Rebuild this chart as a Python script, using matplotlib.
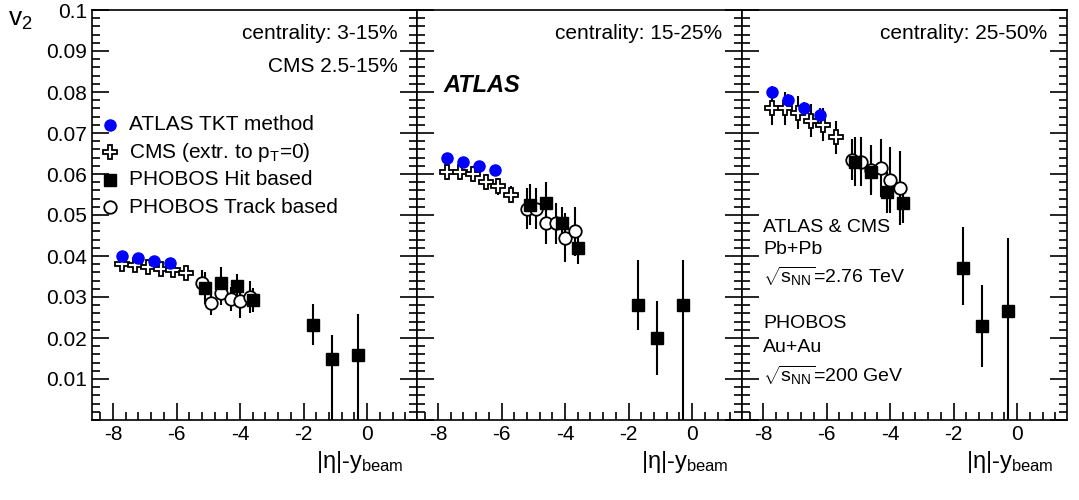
import numpy as np
import matplotlib
matplotlib.use("Agg")
import matplotlib.pyplot as plt
from matplotlib.ticker import MultipleLocator

plt.rcParams['font.family'] = ['Liberation Sans', 'DejaVu Sans']
plt.rcParams['mathtext.fontset'] = 'custom'
plt.rcParams['mathtext.rm'] = 'Liberation Sans'
plt.rcParams['mathtext.it'] = 'Liberation Sans'

x_atlas = [-7.7, -7.2, -6.7, -6.2]
x_cms = [-7.7, -7.3, -6.9, -6.5, -6.1, -5.7]
x_hit = [-5.1, -4.6, -4.1, -3.6, -1.7, -1.1, -0.3]
x_trk = [-5.2, -4.9, -4.6, -4.3, -4.0, -3.7]

atlas = [[0.040, 0.0395, 0.0388, 0.0383], [0.064, 0.063, 0.062, 0.061], [0.080, 0.078, 0.076, 0.0745]]
atlas_err = [[0.0006] * 4, [0.0008] * 4, [0.0015] * 4]
cms = [[0.038, 0.0378, 0.0372, 0.0368, 0.0365, 0.0358],
       [0.0605, 0.0605, 0.060, 0.058, 0.057, 0.055],
       [0.076, 0.076, 0.075, 0.073, 0.072, 0.069]]
cms_err = [[0.0012] * 6, [0.002] * 6, [0.004] * 6]
hit = [[0.0322, 0.0333, 0.0327, 0.0293, 0.0232, 0.0148, 0.0158],
       [0.0525, 0.053, 0.048, 0.042, 0.028, 0.020, 0.028],
       [0.063, 0.0605, 0.0555, 0.053, 0.037, 0.023, 0.0265]]
hit_lo = [[0.004, 0.004, 0.003, 0.003, 0.005, 0.0148, 0.0158],
          [0.005, 0.005, 0.004, 0.004, 0.006, 0.009, 0.028],
          [0.006, 0.005, 0.005, 0.005, 0.009, 0.010, 0.0265]]
hit_hi = [[0.004, 0.004, 0.003, 0.003, 0.005, 0.006, 0.010],
          [0.005, 0.005, 0.004, 0.004, 0.011, 0.009, 0.011],
          [0.006, 0.005, 0.005, 0.005, 0.010, 0.010, 0.018]]
trk = [[0.0335, 0.0285, 0.031, 0.0295, 0.029, 0.030],
       [0.0515, 0.0515, 0.048, 0.048, 0.0445, 0.046],
       [0.0635, 0.063, 0.061, 0.0615, 0.0585, 0.0565]]
trk_err = [[0.003, 0.003, 0.003, 0.003, 0.004, 0.004],
           [0.005, 0.005, 0.005, 0.005, 0.006, 0.006],
           [0.005, 0.006, 0.006, 0.007, 0.008, 0.009]]
cent = ["centrality: 3-15%", "centrality: 15-25%", "centrality: 25-50%"]

fig = plt.figure(figsize=(10.79, 5.0), dpi=100)
W = 1079.0
H = 500.0
lefts = [92, 417, 742]
axes = []
for i in range(3):
    ax = fig.add_axes([lefts[i] / W, 80 / H, 325 / W, 410 / H])
    axes.append(ax)
    eb = dict(ls='none', ecolor='black', elinewidth=1.5, capsize=0)
    ax.errorbar(x_cms, cms[i], yerr=cms_err[i], marker='P', ms=10, mfc='white', mec='black', mew=1.3, **eb)
    ax.errorbar(x_trk, trk[i], yerr=trk_err[i], marker='o', ms=9, mfc='white', mec='black', mew=1.3, **eb)
    ax.errorbar(x_hit, hit[i], yerr=[hit_lo[i], hit_hi[i]], marker='s', ms=8, mfc='black', mec='black', **eb)
    ax.errorbar(x_atlas, atlas[i], yerr=atlas_err[i], marker='o', ms=8, mfc='blue', mec='blue',
                ls='none', ecolor='blue', elinewidth=1.5)
    ax.set_xlim(-8.66, 1.57)
    ax.set_ylim(0, 0.1)
    ax.xaxis.set_major_locator(MultipleLocator(2))
    ax.xaxis.set_minor_locator(MultipleLocator(0.4))
    ax.yaxis.set_major_locator(MultipleLocator(0.01))
    ax.yaxis.set_minor_locator(MultipleLocator(0.002))
    ax.tick_params(which='both', direction='in', top=False, right=True, labelsize=15, width=1.2)
    ax.tick_params(which='major', length=12)
    ax.tick_params(which='minor', length=6)
    for s in ax.spines.values():
        s.set_linewidth(1.2)
    ax.set_xticks([-8, -6, -4, -2, 0])
    ax.set_xticklabels(['-8', '-6', '-4', '-2', '0'])
    if i > 0:
        ax.set_yticklabels([])
    else:
        ax.set_yticks(np.arange(0.01, 0.101, 0.01))
        ax.set_yticklabels(['0.01', '0.02', '0.03', '0.04', '0.05', '0.06', '0.07', '0.08', '0.09', '0.1'])
    ax.text(0.94, 0.965, cent[i], transform=ax.transAxes, ha='right', va='top', fontsize=15)
    ax.text(0.96, -0.07, r'|$\eta$|-y$_{\rm beam}$', transform=ax.transAxes, ha='right', va='top', fontsize=17)

axes[0].text(0.94, 0.885, "CMS 2.5-15%", transform=axes[0].transAxes, ha='right', va='top', fontsize=15)
fig.text(8 / W, 1 - 20 / H, r'v$_2$', fontsize=19, va='center')
axes[1].text(0.08, 0.80, "ATLAS", transform=axes[1].transAxes, fontsize=17, fontweight='bold', style='italic')

lg = axes[0]
lx = -8.1
for k, (lab, kw) in enumerate([
        ("ATLAS TKT method", dict(marker='o', ms=8, mfc='blue', mec='blue')),
        (r"CMS (extr. to p$_{\rm T}$=0)", dict(marker='P', ms=10, mfc='white', mec='black', mew=1.3)),
        ("PHOBOS Hit based", dict(marker='s', ms=8, mfc='black', mec='black')),
        ("PHOBOS Track based", dict(marker='o', ms=9, mfc='white', mec='black', mew=1.3))]):
    yy = 0.0720 - k * 0.0067
    lg.plot([lx], [yy], ls='none', **kw)
    lg.text(lx + 0.6, yy, lab, va='center', fontsize=15)

a3 = axes[2]
for t, y in [("ATLAS & CMS", 0.047), ("Pb+Pb", 0.0415), (r"$\sqrt{s_{\rm NN}}$=2.76 TeV", 0.035),
             ("PHOBOS", 0.0235), ("Au+Au", 0.0178), (r"$\sqrt{s_{\rm NN}}$=200 GeV", 0.011)]:
    a3.text(-8.0, y, t, fontsize=14, va='center')

fig.savefig("out.png", dpi=100)
